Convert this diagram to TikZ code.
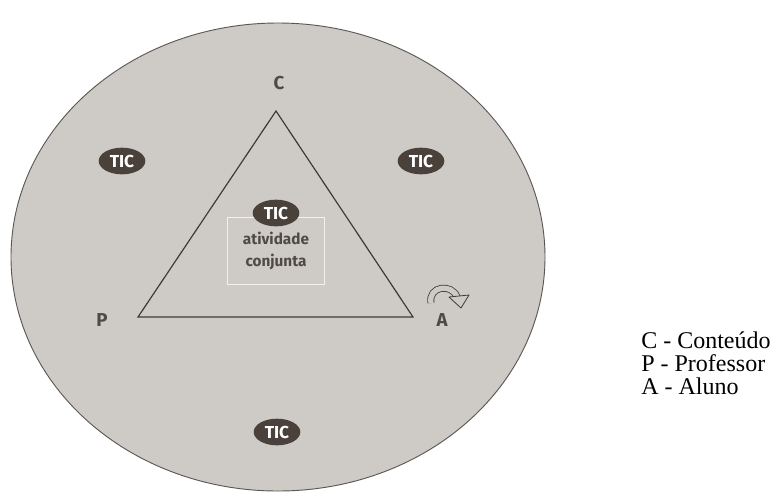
\documentclass[tikz,border=0pt]{standalone}
\usepackage{fontspec}
\setmainfont{Liberation Serif}
\newfontfamily\labelfont{Fira Sans}
\usetikzlibrary{arrows.meta,positioning,shapes.geometric}
\definecolor{disc}{HTML}{CECBC7}
\definecolor{ink}{HTML}{3E3A37}
\definecolor{ticfill}{HTML}{4A413B}
\definecolor{tag}{HTML}{4F4A46}
\definecolor{boxline}{HTML}{F2F1EF}
\tikzset{
  tic/.style={ellipse, fill=ticfill, text=white, inner sep=0pt,
              minimum width=35pt, minimum height=20pt,
              font=\labelfont\bfseries\fontsize{13}{13}\selectfont},
  vertex/.style={text=tag, inner sep=0pt, font=\labelfont\bfseries\fontsize{14}{14}\selectfont},
  actbox/.style={draw=boxline, line width=0.5pt, align=center, inner sep=0pt,
                 minimum width=73pt, minimum height=50pt, text=tag,
                 font=\labelfont\bfseries\fontsize{11.5}{16}\selectfont},
  side/.style={draw=ink, line width=0.9pt, line join=miter},
  legend/.style={anchor=base west, inner sep=0pt, font=\fontsize{18}{18}\selectfont}
}
\begin{document}
\begin{tikzpicture}[x=0.75pt,y=-0.75pt]
        \useasboundingbox (0,0) rectangle (780,497);

        % outer disc
        \draw[fill=disc, draw=ink!85, line width=0.7pt] (278,257) ellipse [x radius=267, y radius=234];

        % triangle C-P-A
        \coordinate (c) at (276,111);
        \coordinate (p) at (138,317);
        \coordinate (a) at (413,317);
        \draw[side] (c) -- (p) -- (a) -- cycle;
        \node[vertex] (lc) at (279,83) {C};
        \node[vertex] (lp) at (102,320) {P};
        \node[vertex] (la) at (442,320) {A};

        % joint activity in the middle
        \node[actbox] (act) at (276,251) {atividade\\conjunta};
        \node[tic] (ticM) at (276,213) {TIC};

        % TIC around the triangle
        \node[tic] (ticL) at (122,161) {TIC};
        \node[tic] (ticR) at (421,161) {TIC};
        \node[tic] (ticB) at (277,432) {TIC};

        % curl over A
        \draw[draw=ink, line width=0.6pt, double=disc, double distance=4pt]
          (431,303) .. controls (428,286) and (452,283) .. (457,297);
        \draw[draw=ink, fill=disc, line width=0.6pt, line join=round]
          (449,297) -- (469,295) -- (461,308) -- cycle;

        % legend
        \node[legend] (keyC) at (641,348) {C - Conteúdo};
        \node[legend] (keyP) at (641,371) {P - Professor};
        \node[legend] (keyA) at (641,394) {A - Aluno};
      \end{tikzpicture}
\end{document}
